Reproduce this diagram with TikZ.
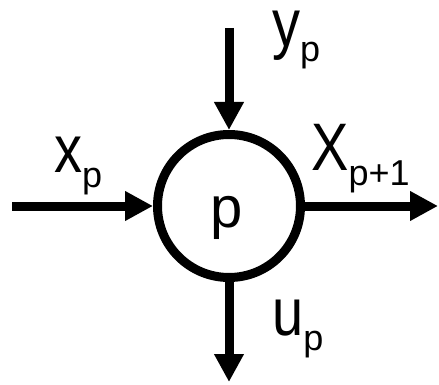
\documentclass[tikz,border=0pt]{standalone}
\usepackage{fontspec}
\setmainfont{Liberation Sans}
\usetikzlibrary{arrows.meta, positioning}

\newcommand{\varlbl}[2]{\scalebox{1}[1.2]{\fontsize{56}{56}\selectfont #1}\raisebox{-15pt}{\fontsize{36}{36}\selectfont #2}}

\begin{document}
\begin{tikzpicture}[
    x=1pt, y=-1pt,
    proc/.style={draw, circle, line width=9pt, minimum size=143pt, inner sep=0pt},
    flow/.style={-{Triangle[length=28pt, width=28pt]}, line width=9pt},
    varname/.style={inner sep=0pt, anchor=base west}
]
    \useasboundingbox (0,0) rectangle (439,385);

    % Knoten p
    \node[proc] (proc) at (229,206) {};
    \node[font=\fontsize{58}{58}\selectfont, inner sep=0pt] (ptxt) at (227,218) {p};

    % freie Enden
    \coordinate (xin) at (12,206);
    \coordinate (xout) at (438,206);
    \coordinate (yin) at (229,28);
    \coordinate (uout) at (229,382);

    % Pfeile
    \draw[flow] (xin) -- (proc.west);
    \draw[flow] (proc.east) -- (xout);
    \draw[flow] (yin) -- (proc.north);
    \draw[flow] (proc.south) -- (uout);

    % Beschriftungen
    \node[varname] (xlbl) at (54,172) {\varlbl{x}{p}};
    \node[varname] (ylbl) at (272,47) {\varlbl{y}{p}};
    \node[varname] (xnlbl) at (311,170) {\varlbl{X}{p+1}};
    \node[varname] (ulbl) at (272,335) {\varlbl{u}{p}};
\end{tikzpicture}
\end{document}
